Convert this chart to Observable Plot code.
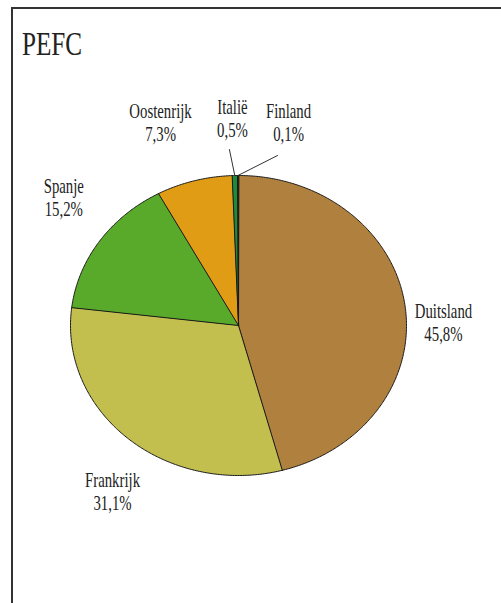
<!DOCTYPE html>
<html>
<head>
<meta charset="utf-8">
<script src="https://cdn.jsdelivr.net/npm/d3@7"></script>
<script src="https://cdn.jsdelivr.net/npm/@observablehq/plot@0.6"></script>
<style>
  html, body { margin: 0; padding: 0; background: #fff; overflow: hidden; width: 501px; height: 603px; }
  #frame { position: absolute; left: 11px; top: 7px; width: 700px; height: 800px; border: 2px solid #333; box-sizing: border-box; }
  #title { position: absolute; left: 22px; top: 27px; font-family: "Liberation Serif", serif; font-size: 34px; color: #222; transform: scaleX(0.74); transform-origin: left top; line-height: 1; }
  #chart { position: absolute; left: 0; top: 0; }
</style>
</head>
<body>
<div id="frame"></div>
<div id="title">PEFC</div>
<div id="chart"></div>
<script>
// Data
const countries = ["Duitsland", "Frankrijk", "Spanje", "Oostenrijk", "Italië", "Finland"];
const shares = [45.8, 31.1, 15.2, 7.3, 0.5, 0.1];
const shareLabels = ["45,8%", "31,1%", "15,2%", "7,3%", "0,5%", "0,1%"];
const colors = ["#b0803e", "#c3bf4e", "#59aa2b", "#e09c15", "#1d8c3a", "#6e3320"];
// Label anchor positions (unit ellipse coords) and leader lines
const labelX = [1.22, -0.75, -1.04, -0.464, -0.036, 0.298];
const labelY = [0.02, -1.107, 0.857, 1.357, 1.383, 1.357];
const leaderFrom = { "Italië": [-0.054, 1.173], "Finland": [0.232, 1.133] };

const total = d3.sum(shares);
let acc = 0;
const slicePts = [];
const sliceMeta = [];
countries.forEach((c, i) => {
  const a0 = acc / total * 2 * Math.PI;
  acc += shares[i];
  const a1 = acc / total * 2 * Math.PI;
  const n = Math.max(2, Math.ceil((a1 - a0) / 0.01));
  const pts = [{x: 0, y: 0, c}];
  for (let k = 0; k <= n; k++) {
    const a = a0 + (a1 - a0) * k / n;
    pts.push({x: Math.sin(a), y: Math.cos(a), c});
  }
  slicePts.push(pts);
  sliceMeta.push({c, mid: (a0 + a1) / 2});
});

const labels = countries.map((c, i) => ({c, x: labelX[i], y: labelY[i], text: c + "\n" + shareLabels[i]}));
const leaders = [];
Object.entries(leaderFrom).forEach(([c, p]) => {
  const m = sliceMeta.find(s => s.c === c);
  leaders.push({c, x: p[0], y: p[1]});
  leaders.push({c, x: Math.sin(m.mid), y: Math.cos(m.mid)});
});

const chart = Plot.plot({
  width: 501,
  height: 603,
  margin: 0,
  x: {domain: [-1, 1], range: [70, 406], axis: null},
  y: {domain: [-1, 1], range: [475, 175], axis: null},
  marks: [
    ...slicePts.map((pts, i) => Plot.line(pts, {x: "x", y: "y", fill: colors[i], stroke: "#1a1a1a", strokeWidth: 1, curve: "linear-closed"})),
    Plot.line(leaders, {x: "x", y: "y", z: "c", stroke: "#333", strokeWidth: 1}),
    Plot.text(labels, {x: "x", y: "y", text: "text", fontFamily: "Liberation Serif", fontSize: 20, fill: "#222", lineHeight: 1.15, textAnchor: "middle"})
  ]
});
chart.querySelectorAll("text").forEach(t => {
  const tr = t.getAttribute("transform") || "";
  t.setAttribute("transform", tr + " scale(0.74,1)");
});
document.getElementById("chart").appendChild(chart);
</script>
</body>
</html>
